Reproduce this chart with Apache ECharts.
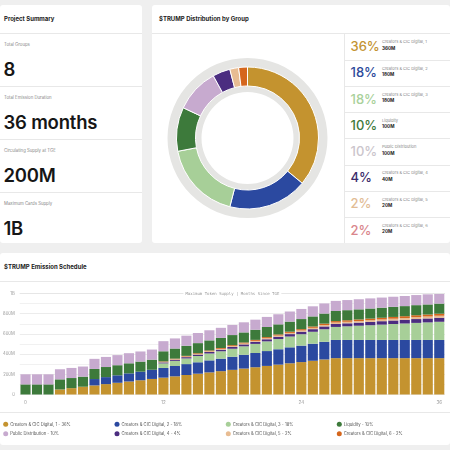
<!DOCTYPE html>
<html><head><meta charset="utf-8">
<script src="https://cdn.jsdelivr.net/npm/echarts@6/dist/echarts.min.js"></script>
<style>
html,body{margin:0;padding:0;width:450px;height:450px;overflow:hidden;background:#efefef;font-family:Inter,"Noto Sans",sans-serif;}
.card{position:absolute;background:#fff;border-radius:3px;}
.t{position:absolute;white-space:nowrap;line-height:1;}
.hl{position:absolute;height:1px;background:#e8e8e8;}
.vl{position:absolute;width:1px;background:#e8e8e8;}
#chart{position:absolute;left:0;top:0;width:450px;height:450px;}
</style></head><body>
<div class="card" style="left:0;top:5px;width:142px;height:238px"></div>
<div class="card" style="left:152px;top:5px;width:298px;height:238px"></div>
<div class="card" style="left:0;top:253px;width:450px;height:192px"></div>
<div id="html"></div>
<div id="chart"></div>
<script>
// ---------- DATA ----------
const summaryLabels = ['Total Groups','Total Emission Duration','Circulating Supply at TGE','Maximum Cards Supply'];
const summaryValues = ['8','36 months','200M','1B'];

const groups = ['Creators & CIC Digital, 1','Creators & CIC Digital, 2','Creators & CIC Digital, 3','Liquidity','Public Distribution','Creators & CIC Digital, 4','Creators & CIC Digital, 5','Creators & CIC Digital, 6'];
const groupAmounts = [360,180,180,100,100,40,20,20];
const groupAmountLabels = ['360M','180M','180M','100M','100M','40M','20M','20M'];
const groupPercents = [36,18,18,10,10,4,2,2];

const months = ['0','1','2','3','4','5','6','7','8','9','10','11','12','13','14','15','16','17','18','19','20','21','22','23','24','25','26','27','28','29','30','31','32','33','34','35','36'];
const cic1 = [0,0,0,50,63,77,90,103,116,129,141,154,167,180,193,206,219,231,244,257,270,283,296,309,321,334,347,360,360,360,360,360,360,360,360,360,360];
const cic2 = [0,0,0,0,0,0,63,69,74,80,85,91,96,102,108,113,119,124,130,136,141,147,152,158,163,169,175,180,180,180,180,180,180,180,180,180,180];
const cic3 = [0,0,0,0,0,0,0,0,0,0,0,0,45,51,56,62,68,73,79,84,90,96,101,107,113,118,124,129,135,141,146,152,158,163,169,174,180];
const liquidity = [100,100,100,100,100,100,100,100,100,100,100,100,100,100,100,100,100,100,100,100,100,100,100,100,100,100,100,100,100,100,100,100,100,100,100,100,100];
const publicDist = [100,100,100,100,100,100,100,100,100,100,100,100,100,100,100,100,100,100,100,100,100,100,100,100,100,100,100,100,100,100,100,100,100,100,100,100,100];
const cic4 = [0,0,0,0,0,0,0,0,0,0,0,0,10,11,13,14,15,16,18,19,20,21,23,24,25,26,28,29,30,31,33,34,35,36,38,39,40];
const cic5 = [0,0,0,0,0,0,0,0,0,0,0,0,5,5.6,6.3,6.9,7.5,8.1,8.8,9.4,10,10.6,11.3,11.9,12.5,13.1,13.8,14.4,15,15.6,16.3,16.9,17.5,18.1,18.8,19.4,20];
const cic6 = [0,0,0,0,0,0,0,0,0,0,0,0,5,5.6,6.3,6.9,7.5,8.1,8.8,9.4,10,10.6,11.3,11.9,12.5,13.1,13.8,14.4,15,15.6,16.3,16.9,17.5,18.1,18.8,19.4,20];
const yTickValues = [0,200,400,600,800,1000];
const yTickLabels = ['0','200M','400M','600M','800M','1B'];
const maxSupplyLabel = 'Maximum Token Supply | Months Since TGE';

// ---------- STYLE ----------
const colors = ['#C4932F','#2B49A0','#A7CF98','#3D7A3B','#C7AACF','#4B2D80','#E8BC92','#D5661C'];
const pctColors = ['#C39331','#2C4A9B','#A9D19B','#3F7A3B','#CBC5CC','#3B2C6B','#E2BC95','#D9868C'];

// ---------- HTML TEXT ----------
const h = document.getElementById('html');
function txt(x, cy, s, size, weight, color, extra){
  const d = document.createElement('div');
  d.className = 't';
  d.textContent = s;
  d.style.cssText = `left:${x}px;top:${cy - size/2}px;font-size:${size}px;font-weight:${weight};color:${color};${extra||''}`;
  h.appendChild(d); return d;
}
function hl(x, y, w){ const d=document.createElement('div'); d.className='hl'; d.style.cssText=`left:${x}px;top:${y}px;width:${w}px`; h.appendChild(d); }
function vl(x, y, hh){ const d=document.createElement('div'); d.className='vl'; d.style.cssText=`left:${x}px;top:${y}px;height:${hh}px`; h.appendChild(d); }

txt(4, 19, 'Project Summary', 6, 700, '#222');
hl(0, 33, 142);
for (let i = 0; i < summaryLabels.length; i++) {
  const top = 33 + 53 * i;
  if (i > 0) hl(0, top, 142);
  txt(4, top + 12, summaryLabels[i], 4.3, 400, '#888');
  txt(3.5, top + 36, summaryValues[i], 18.5, 600, '#161616', 'letter-spacing:-0.2px;');
}

txt(159, 19, '$TRUMP Distribution by Group', 6, 700, '#222');
hl(152, 33, 298);
vl(344, 33, 210);
for (let i = 0; i < groups.length; i++) {
  const top = 33.5 + 26.2 * i;
  if (i > 0) hl(344, top, 106);
  txt(350.5, top + 13.1, groupPercents[i] + '%', 13, 500, pctColors[i]);
  txt(382, top + 8.8, groups[i], 4, 400, '#888');
  txt(382, top + 15.6, groupAmountLabels[i], 4.6, 700, '#222');
}

txt(4, 267, '$TRUMP Emission Schedule', 6, 700, '#222');
hl(0, 281, 450);
hl(0, 412, 450);

// ---------- CHART ----------
const chart = echarts.init(document.getElementById('chart'), null, {renderer:'canvas'});
const stackOrder = [0,1,2,5,6,7,3,4];
const seriesData = [cic1, cic2, cic3, liquidity, publicDist, cic4, cic5, cic6];

const barSeries = stackOrder.map((gi, k) => ({
  type: 'bar', name: groups[gi], stack: 'total', data: seriesData[gi],
  xAxisIndex: 0, yAxisIndex: 0,
  itemStyle: {color: colors[gi]},
  barCategoryGap: '12%',
  animation: false,
  markLine: k === 0 ? {
    silent: true, symbol: 'none',
    data: [{yAxis: 1000}],
    lineStyle: {color: '#e6e6e6', width: 1, type: 'solid'},
    label: {show: true, position: 'middle', distance: -3.5, formatter: maxSupplyLabel, fontFamily: 'DejaVu Sans Mono', fontSize: 4, color: '#9a9a9a', backgroundColor: '#fff', padding: [1, 2]}
  } : undefined
}));

const legendCols = [[0,4],[1,5],[2,6],[3,7]];
const legendX = [3.2, 114.5, 225.8, 336.8];
const legends = legendCols.map((c, i) => ({
  orient: 'vertical', left: legendX[i], top: 421.8, itemGap: 4.4,
  icon: 'circle', itemWidth: 5, itemHeight: 5, padding: 0,
  selectedMode: false,
  data: c.map(gi => groups[gi]),
  formatter: name => name + ' - ' + groupPercents[groups.indexOf(name)] + '%',
  textStyle: {fontSize: 4.2, color: '#555', fontFamily: 'Inter', padding: [0,0,0,-3]}
}));

chart.setOption({
  animation: false,
  legend: legends,
  grid: {left: 18, right: 5, top: 293.5, bottom: 55.5, containLabel: false},
  xAxis: {
    type: 'category', data: months,
    axisLine: {show: false}, axisTick: {show: false},
    axisLabel: {interval: 11, fontSize: 4.5, color: '#999', margin: 5.5, fontFamily: 'Inter'}
  },
  yAxis: {
    type: 'value', min: 0, max: 1000, interval: 200,
    axisLabel: {fontSize: 4.2, color: '#999', margin: 5, fontFamily: 'Inter',
      formatter: v => yTickLabels[yTickValues.indexOf(v)]},
    splitLine: {lineStyle: {color: '#ececec', width: 1}},
    minorTick: {show: false, splitNumber: 2},
    minorSplitLine: {show: true, lineStyle: {color: '#f1f1f1', width: 1}}
  },
  series: [
    {
      type: 'pie', silent: true, center: [247.5, 138], radius: [46, 80],
      label: {show: false}, labelLine: {show: false},
      data: [{value: 1, name: '_bg', itemStyle: {color: '#E5E5E3'}}],
      animation: false
    },
    {
      type: 'pie', center: [247.5, 138], radius: [52, 71], startAngle: 90, clockwise: true,
      label: {show: false}, labelLine: {show: false},
      itemStyle: {borderColor: '#ffffff', borderWidth: 1},
      data: groups.map((g, i) => ({name: g, value: groupAmounts[i], itemStyle: {color: colors[i]}})),
      animation: false
    },
    ...barSeries
  ]
});
</script>
</body></html>
